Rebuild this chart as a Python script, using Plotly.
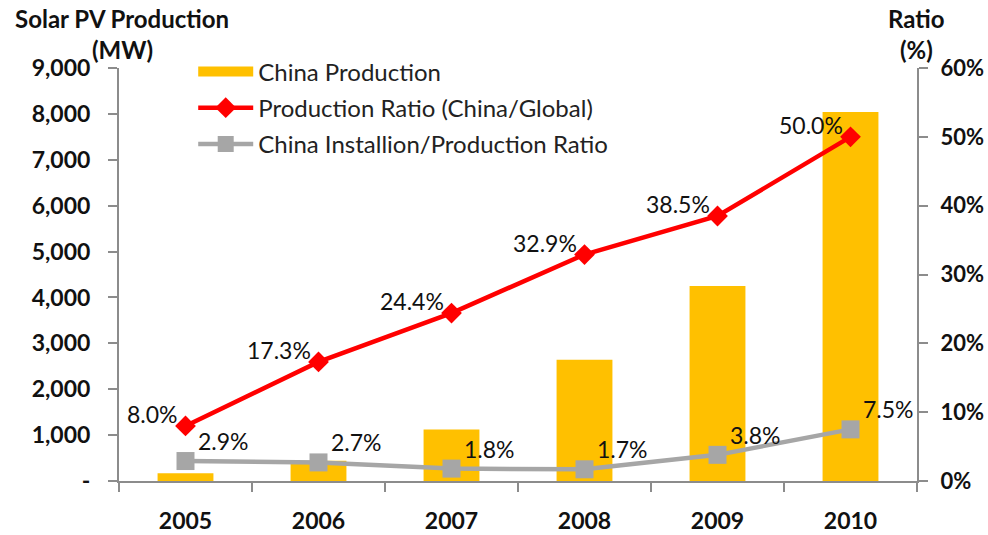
import plotly.graph_objects as go

# Chart data
years = ["2005", "2006", "2007", "2008", "2009", "2010"]
china_production_mw = [170, 440, 1120, 2640, 4250, 8040]
production_ratio_pct = [8.0, 17.3, 24.4, 32.9, 38.5, 50.0]
install_prod_ratio_pct = [2.9, 2.7, 1.8, 1.7, 3.8, 7.5]

left_tick_vals = [0, 1000, 2000, 3000, 4000, 5000, 6000, 7000, 8000, 9000]
left_tick_text = ["-", "1,000", "2,000", "3,000", "4,000", "5,000",
                  "6,000", "7,000", "8,000", "9,000"]
right_tick_vals = [0, 10, 20, 30, 40, 50, 60]
right_tick_text = [f"{v}%" for v in right_tick_vals]

FONT = "Lato"
AXIS_GREY = "#8c8c8c"
BAR_YELLOW = "#FFC000"
TEXT = "#111111"
TICK_FONT = dict(family=FONT, size=23, color=TEXT, weight="bold")
LABEL_FONT = dict(family=FONT, size=23, color=TEXT)

fig = go.Figure()

# production bars (left axis); legend swatch drawn by a wide-line proxy entry
fig.add_trace(go.Bar(
    x=years, y=china_production_mw, name="China Production",
    marker=dict(color=BAR_YELLOW, line=dict(width=0)),
    yaxis="y", legendgroup="prod", showlegend=False,
))
fig.add_trace(go.Scatter(
    x=[None], y=[None], name="China Production", mode="lines",
    line=dict(color=BAR_YELLOW, width=15),
    legendgroup="prod", showlegend=True, hoverinfo="skip",
))

fig.add_trace(go.Scatter(
    x=years, y=production_ratio_pct, name="Production Ratio (China/Global)",
    mode="lines+markers",
    line=dict(color="#FF0000", width=4.5),
    marker=dict(symbol="diamond", size=16, color="#FF0000"),
    yaxis="y2", legendgroup="ratio",
))

fig.add_trace(go.Scatter(
    x=years, y=install_prod_ratio_pct, name="China Installion/Production Ratio",
    mode="lines+markers",
    line=dict(color="#A6A6A6", width=4.5),
    marker=dict(symbol="square", size=18, color="#A6A6A6"),
    yaxis="y2", legendgroup="install",
))

# value labels: global-share labels sit up-left, install-ratio labels up-right
# (x given as category index so the labels never stretch the category axis)
annotations = []
for i, v in enumerate(production_ratio_pct):
    annotations.append(dict(
        x=i, y=v, xref="x", yref="y2", text=f"{v:.1f}%", showarrow=False,
        xanchor="right", yanchor="middle", xshift=-6, yshift=12,
        font=LABEL_FONT,
    ))
for i, v in enumerate(install_prod_ratio_pct):
    annotations.append(dict(
        x=i, y=v, xref="x", yref="y2", text=f"{v:.1f}%", showarrow=False,
        xanchor="left", yanchor="middle", xshift=10, yshift=20,
        font=LABEL_FONT,
    ))

# axis titles above each vertical axis
TITLE_FONT = dict(family=FONT, size=24, color=TEXT)
annotations += [
    dict(text="<b>Solar PV Production</b>", xref="paper", yref="paper",
         x=0.004, y=1.121, xanchor="center", yanchor="middle", showarrow=False,
         font=TITLE_FONT),
    dict(text="<b>(MW)</b>", xref="paper", yref="paper",
         x=0.004, y=1.044, xanchor="center", yanchor="middle", showarrow=False,
         font=TITLE_FONT),
    dict(text="<b>Ratio</b>", xref="paper", yref="paper",
         x=0.999, y=1.121, xanchor="center", yanchor="middle", showarrow=False,
         font=TITLE_FONT),
    dict(text="<b>(%)</b>", xref="paper", yref="paper",
         x=0.999, y=1.044, xanchor="center", yanchor="middle", showarrow=False,
         font=TITLE_FONT),
]

fig.update_layout(
    width=988, height=535,
    margin=dict(l=119, r=71, t=68, b=54),
    paper_bgcolor="white", plot_bgcolor="white",
    font=dict(family=FONT, color=TEXT),
    bargap=0.58,
    showlegend=True,
    legend=dict(
        x=0.093, y=1.045, xanchor="left", yanchor="top",
        bgcolor="rgba(0,0,0,0)",
        font=dict(family=FONT, size=24, color="#222222"),
        itemwidth=55, traceorder="grouped", tracegroupgap=2,
    ),
    xaxis=dict(
        type="category", automargin=False,
        range=[-0.5, len(years) - 0.5], autorange=False,
        showline=True, linecolor=AXIS_GREY, linewidth=2,
        ticks="outside", tickson="boundaries", ticklen=9,
        tickcolor=AXIS_GREY, tickwidth=2,
        tickfont=TICK_FONT,
        ticklabelstandoff=18,
        showgrid=False, zeroline=False,
    ),
    yaxis=dict(
        range=[0, 9000], autorange=False, automargin=False,
        tickvals=left_tick_vals, ticktext=left_tick_text,
        showline=True, linecolor=AXIS_GREY, linewidth=2,
        ticks="outside", ticklen=9, tickcolor=AXIS_GREY, tickwidth=2,
        tickfont=TICK_FONT,
        ticklabelstandoff=13,
        showgrid=False, zeroline=False,
    ),
    yaxis2=dict(
        range=[0, 60], autorange=False, overlaying="y", side="right",
        automargin=False,
        tickvals=right_tick_vals, ticktext=right_tick_text,
        showline=True, linecolor=AXIS_GREY, linewidth=2,
        ticks="outside", ticklen=9, tickcolor=AXIS_GREY, tickwidth=2,
        tickfont=dict(family=FONT, size=22, color=TEXT, weight="bold"),
        ticklabelstandoff=8,
        showgrid=False, zeroline=False,
    ),
    annotations=annotations,
)

fig.write_html("out.html")
